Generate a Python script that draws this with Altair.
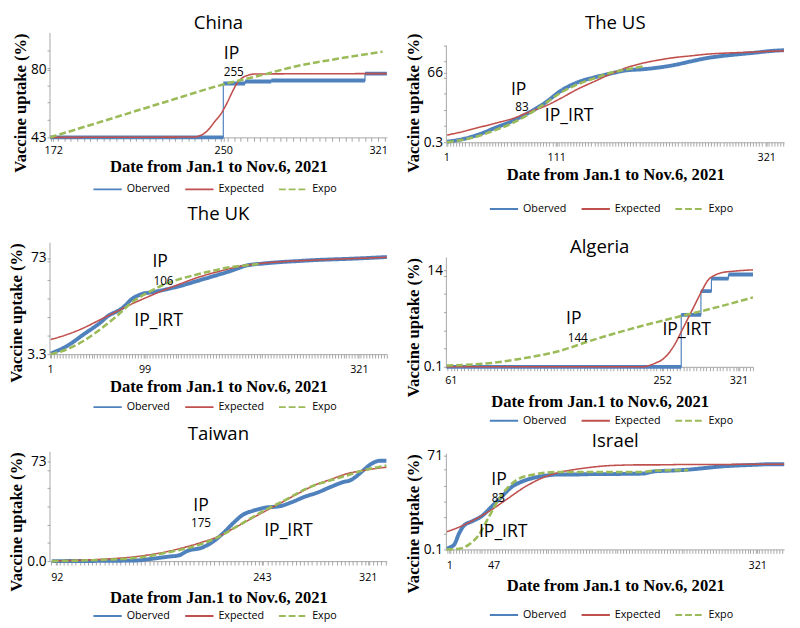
import altair as alt
import pandas as pd

SERIES = ["Oberved", "Expected", "Expo"]
COLORS = ["#4f81bd", "#c0504d", "#9bbb59"]
DASHES = [[1, 0], [1, 0], [7, 3]]
XTITLE = "Date from Jan.1 to Nov.6, 2021"
YTITLE = "Vaccine uptake (%)"
AXIS_GRAY = "#a6a6a6"

# ---------------- China ----------------
china_xdom = [170.5, 325]
china_ydom = [43, 100]
china_ytop = 100
china_xlabels = [172, 250, 321]
china_yvals = [43, 80]
china_ytext = ["43", "80"]
china_obs_day = [170.5, 250, 260, 272, 315, 325]
china_obs_val = [43, 72.4, 73.5, 74.0, 77.8, 77.8]
china_exp_day = [170.5, 236, 240, 243, 246, 249, 252, 254, 256, 258, 261, 265, 325]
china_exp_val = [43, 43.2, 44.3, 47, 51.5, 56, 62.5, 67.5, 72, 74.8, 76.8, 77.6, 77.8]
china_expo_day = [170.5, 193, 223, 250, 268, 283, 298, 313, 323]
china_expo_val = [43, 51.2, 62.2, 71.9, 77.1, 81.7, 85.0, 87.9, 89.7]
china_ann_text = ["IP", "255"]
china_ann_day = [253.8, 254.8]
china_ann_val = [88.2, 78.6]
china_ann_size = [18, 12]

# ---------------- The US ----------------
us_xdom = [1, 339]
us_ydom = [0.3, 104.0]
us_ytop = 92
us_xlabels = [1, 111, 321]
us_yvals = [0.3, 66]
us_ytext = ["0.3", "66"]
us_obs_day = [1.7, 17.9, 34.2, 50.5, 66.8, 83.1, 99.4, 115.7, 131.9, 148.2, 164.5,
              180.8, 197.1, 213.4, 229.7, 246, 262.2, 278.5, 294.8, 311.1, 327.4, 338.8]
us_obs_val = [0.9, 3.4, 8.0, 14.2, 20.4, 28.2, 37.5, 49.2, 57.0, 61.6, 65.3,
              68.5, 69.5, 71.2, 73.7, 77.1, 80.2, 82.3, 83.9, 85.4, 87.0, 87.6]
us_exp_day = [1.7, 17.9, 34.2, 50.5, 66.8, 83.1, 99.4, 115.7, 131.9, 148.2, 164.5,
              180.8, 197.1, 213.4, 229.7, 246, 262.2, 278.5, 294.8, 311.1, 327.4, 338.8]
us_exp_val = [7.1, 10.5, 14.5, 18.5, 22.6, 28.8, 34.4, 42.1, 50.5, 57.6, 64.7,
              70.9, 75.2, 78.3, 80.7, 82.3, 83.9, 84.8, 85.4, 86.0, 86.7, 87.0]
us_expo_day = [1.7, 17.9, 34.2, 50.5, 66.8, 83.1, 99.4, 115.7, 131.9, 148.2, 164.5, 180.8, 198.7]
us_expo_val = [0.3, 2.8, 6.5, 12.1, 18.3, 26.7, 36.9, 47.4, 55.1, 60.7, 65.9, 69.3, 72.4]
us_ann_text = ["IP", "83", "IP_IRT"]
us_ann_day = [73.3, 76.6, 123.8]
us_ann_val = [50.0, 33.2, 25.0]
us_ann_size = [18, 12, 18]

# ---------------- The UK ----------------
uk_xdom = [1, 350]
uk_ydom = [3.3, 84]
uk_ytop = 84
uk_xlabels = [1, 99, 321]
uk_yvals = [3.3, 73]
uk_ytext = ["3.3", "73"]
uk_obs_day = [1.7, 18.6, 35.6, 52.5, 62.7, 69.5, 76.3, 86.4, 96.6, 106.8, 120.3, 137.3,
              154.2, 171.2, 188.1, 205.1, 222, 239, 255.9, 272.9, 289.8, 306.8, 323.7, 350]
uk_obs_val = [3.8, 9.2, 17.5, 25.8, 31.7, 34.0, 36.9, 43.5, 47.0, 48.2, 50.1, 53.0,
              56.5, 60.0, 63.6, 67.6, 69.0, 70.0, 70.7, 71.4, 71.9, 72.3, 72.8, 73.7]
uk_exp_day = [1.7, 18.6, 35.6, 52.5, 69.5, 86.4, 103.4, 120.3, 137.3, 154.2, 171.2,
              188.1, 205.1, 222, 239, 255.9, 272.9, 289.8, 323.7, 350]
uk_exp_val = [13.9, 17.5, 22.2, 28.1, 34.0, 39.9, 45.1, 50.1, 54.6, 58.9, 62.4,
              65.5, 67.8, 69.3, 70.2, 70.9, 71.4, 71.9, 72.8, 73.5]
uk_expo_day = [1.7, 18.6, 35.6, 52.5, 69.5, 86.4, 103.4, 120.3, 137.3, 154.2, 171.2, 188.1, 205.1, 218.6]
uk_expo_val = [3.3, 6.8, 12.8, 21.0, 30.5, 41.1, 48.2, 54.1, 58.1, 61.2, 64.0, 66.4, 67.8, 68.8]
uk_ann_text = ["IP", "106", "IP_IRT"]
uk_ann_day = [115.2, 118.6, 113.5]
uk_ann_val = [70.0, 56.5, 27.4]
uk_ann_size = [18, 12, 18]

# ---------------- Algeria ----------------
alg_xdom = [57, 334]
alg_ydom = [0.1, 15.85]
alg_ytop = 15.85
alg_xlabels = [61, 252, 321]
alg_yvals = [0.1, 14]
alg_ytext = ["0.1", "14"]
alg_obs_day = [57, 269.2, 287, 296.5, 311.9, 334]
alg_obs_val = [0.1, 7.58, 11.0, 12.8, 13.4, 13.4]
alg_exp_day = [57, 234.2, 240.2, 246.1, 252, 257.9, 263.8, 269.8, 275.7, 281.6,
               287.5, 293.4, 299.3, 305.3, 317.1, 334]
alg_exp_val = [0.1, 0.1, 0.29, 0.66, 1.13, 2.06, 3.46, 5.33, 7.2, 9.07,
               10.94, 12.58, 13.28, 13.65, 13.88, 14.07]
alg_expo_day = [57, 98.2, 127.7, 157.3, 186.9, 216.5, 246.1, 275.7, 305.3, 334]
alg_expo_val = [0.29, 0.66, 1.36, 2.3, 3.84, 5.24, 6.5, 7.67, 8.84, 10.1]
alg_ann_text = ["IP", "144", "IP_IRT"]
alg_ann_day = [172.1, 175.7, 274.2]
alg_ann_val = [7.0, 4.3, 5.4]
alg_ann_size = [18, 12, 18]

# ---------------- Taiwan ----------------
tw_xdom = [87, 335]
tw_ydom = [0, 80]
tw_ytop = 80
tw_xlabels = [92, 243, 321]
tw_yvals = [0, 73]
tw_ytext = ["0.0", "73"]
tw_obs_day = [88.4, 126.6, 150.5, 162.4, 174.3, 181.5, 188.7, 198.2, 207.8, 214.9, 222.1,
              229.2, 236.4, 245.9, 255.5, 265, 274.6, 284.1, 293.7, 303.2, 308, 312.8,
              317.5, 324.7, 329.5, 334.7]
tw_obs_val = [0, 0.2, 0.5, 1.7, 3.3, 4.1, 7.7, 9.6, 14.8, 20.8, 28.0,
              34.0, 36.8, 39.2, 40.0, 43.1, 47.1, 50.2, 54.3, 57.9, 59.1, 62.2,
              66.3, 71.8, 73.4, 73.4]
tw_exp_day = [88.4, 126.6, 150.5, 174.3, 198.2, 210.1, 222.1, 234, 245.9, 257.9,
              269.8, 281.7, 293.7, 305.6, 317.5, 334.7]
tw_exp_val = [0.2, 1.4, 3.3, 7.2, 13.6, 17.7, 23.9, 30.4, 36.8, 43.1,
              49.5, 55.5, 59.8, 63.9, 66.3, 68.7]
tw_expo_day = [88.4, 126.6, 150.5, 174.3, 198.2, 210.1, 222.1, 234, 245.9, 257.9,
               269.8, 281.7, 293.7, 305.6, 317.5, 334.7]
tw_expo_val = [0, 1.0, 2.4, 6.5, 12.4, 17.2, 23.9, 30.9, 37.6, 43.5,
               50.0, 55.5, 59.1, 62.7, 66.3, 69.9]
tw_ann_text = ["IP", "175", "IP_IRT"]
tw_ann_day = [198.2, 198.2, 262.6]
tw_ann_val = [40.5, 28.0, 22.0]
tw_ann_size = [18, 12, 18]

# ---------------- Israel ----------------
is_xdom = [-2, 349]
is_ydom = [0.1, 72.2]
is_ytop = 72.2
is_xlabels = [1, 47, 321]
is_yvals = [0.1, 71]
is_ytext = ["0.1", "71"]
is_obs_day = [-2, 2.7, 6.1, 11.2, 16.3, 24.8, 35, 45.2, 55.4, 65.6, 75.8, 86, 99.6, 113.2,
              130.3, 147.3, 164.3, 181.3, 201.7, 215.3, 232.3, 249.3, 266.3, 283.3, 300.3,
              317.3, 334.3, 349]
is_obs_val = [0.6, 2.0, 3.7, 12.1, 18.1, 21.3, 25.3, 32.5, 39.8, 47.0, 51.0, 53.5, 55.5, 56.5,
              56.5, 56.8, 56.8, 57.0, 57.2, 59.0, 59.5, 60.2, 61.4, 62.6, 63.3,
              63.8, 64.3, 64.3]
is_exp_day = [-2, 11.2, 28.2, 45.2, 62.2, 79.2, 96.2, 113.2, 130.3, 147.3, 164.3, 181.3,
              198.3, 215.3, 249.3, 283.3, 317.3, 349]
is_exp_val = [13.3, 16.9, 22.9, 30.1, 38.6, 47.0, 53.5, 57.8, 60.2, 61.9, 63.1, 63.6,
              63.8, 63.8, 64.1, 64.1, 64.3, 64.3]
is_expo_day = [-2, 11.2, 21.4, 31.6, 41.8, 52, 62.2, 72.4, 86, 99.6, 113.2, 147.3,
               181.3, 201.7, 215.3, 232.3, 249.3]
is_expo_val = [0.1, 0.6, 3.7, 10.9, 24.1, 37.4, 47.0, 53.0, 56.1, 57.8, 58.5, 58.5,
               58.5, 58.5, 59.5, 59.7, 59.7]
is_ann_text = ["IP", "83", "IP_IRT"]
is_ann_day = [52.7, 52.0, 57.1]
is_ann_val = [52.0, 38.8, 13.3]
is_ann_size = [18, 12, 18]


def series_df(days, vals, name):
    return pd.DataFrame({"day": days, "value": vals, "series": name})


def label_expr(vals, texts):
    expr = "''"
    for v, t in zip(reversed(vals), reversed(texts)):
        expr = f"datum.value === {v} ? '{t}' : ({expr})"
    return expr


def panel(name, xdom, ydom, ytop, xlabels, yvals, ytext,
          obs_d, obs_v, exp_d, exp_v, expo_d, expo_v,
          ann_t, ann_d, ann_v, ann_s,
          width, height, title_offset, legend_gap, legend_pad, xlab_pad, xtitle_pad,
          step=False):
    lo = int(xdom[0]) + 1
    xticks = sorted(set(list(range(lo, int(xdom[1]) + 1, 3)) + xlabels))
    ystep = (ytop - ydom[0]) / 6
    ygrid = [round(ydom[0] + i * ystep, 4) for i in range(7)]
    yticks = sorted(set([v for v in ygrid if v < ydom[1] - 1e-6] + yvals))
    xexpr = label_expr(xlabels, [str(v) for v in xlabels])
    yexpr = label_expr(yvals, ytext)

    xaxis = alt.Axis(values=xticks, labelExpr=xexpr, labelOverlap=False, labelFlush=False,
                     tickSize=4, labelPadding=xlab_pad, labelFontSize=11, title=XTITLE,
                     titleFont="Liberation Serif", titleFontWeight="bold", titleFontSize=17,
                     titlePadding=xtitle_pad)
    yaxis = alt.Axis(values=yticks, labelExpr=yexpr, labelOverlap=False, labelFlush=False,
                     tickSize=3, labelPadding=1, labelFontSize=14, title=YTITLE,
                     titleFont="Liberation Serif", titleFontWeight="bold", titleFontSize=17,
                     titlePadding=1, titleAnchor="end", domain=False)
    X = alt.X("day:Q", scale=alt.Scale(domain=xdom, nice=False, zero=False), axis=xaxis)
    Y = alt.Y("value:Q", scale=alt.Scale(domain=ydom, nice=False, zero=False), axis=yaxis)
    legend = alt.Legend(orient="none", direction="horizontal", title=None,
                        legendX=50.5 - legend_pad,
                        legendY=height + legend_gap - 7.5 - legend_pad,
                        padding=legend_pad,
                        symbolType="M-2,0L2,0", symbolSize=210,
                        symbolStrokeWidth=2, columnPadding=11, labelOffset=11,
                        labelFont="Open Sans", labelFontSize=11)
    C = alt.Color("series:N", scale=alt.Scale(domain=SERIES, range=COLORS), legend=legend)
    D = alt.StrokeDash("series:N", scale=alt.Scale(domain=SERIES, range=DASHES), legend=legend)

    obs = series_df(obs_d, obs_v, "Oberved")
    exp = series_df(exp_d, exp_v, "Expected")
    expo = series_df(expo_d, expo_v, "Expo")

    layers = []
    if step:
        layers.append(alt.Chart(obs).mark_line(interpolate="step-after", strokeWidth=1.2)
                      .encode(x=X, y=Y, color=C, strokeDash=D))
        plate = pd.DataFrame({"day": obs_d[:-1], "day2": obs_d[1:],
                              "value": obs_v[:-1], "series": "Oberved"})
        layers.append(alt.Chart(plate).mark_rule(strokeWidth=4)
                      .encode(x=X, x2="day2:Q", y=Y, color=C, strokeDash=D))
    else:
        layers.append(alt.Chart(obs).mark_line(interpolate="monotone", strokeWidth=4)
                      .encode(x=X, y=Y, color=C, strokeDash=D))
    layers.append(alt.Chart(exp).mark_line(interpolate="monotone", strokeWidth=1.6)
                  .encode(x=X, y=Y, color=C, strokeDash=D))
    layers.append(alt.Chart(expo).mark_line(interpolate="monotone", strokeWidth=2.6)
                  .encode(x=X, y=Y, color=C, strokeDash=D))
    # y axis line, drawn up to the visible top of the value range
    axis_line = pd.DataFrame({"value": [ydom[0]], "value2": [ytop]})
    layers.append(alt.Chart(axis_line).mark_rule(color=AXIS_GRAY, strokeWidth=1)
                  .encode(x=alt.value(0), y=Y, y2="value2:Q"))
    ann = pd.DataFrame({"day": ann_d, "value": ann_v, "label": ann_t, "size": ann_s})
    layers.append(alt.Chart(ann).mark_text(font="Open Sans", color="black")
                  .encode(x=X, y=Y, text="label:N", size=alt.Size("size:Q", scale=None, legend=None)))

    return alt.layer(*layers).properties(
        width=width, height=height,
        title=alt.TitleParams(name, font="Open Sans", fontSize=19, fontWeight="normal",
                              offset=title_offset, color="black"))


china = panel("China", china_xdom, china_ydom, china_ytop, china_xlabels, china_yvals, china_ytext,
              china_obs_day, china_obs_val, china_exp_day, china_exp_val,
              china_expo_day, china_expo_val,
              china_ann_text, china_ann_day, china_ann_val, china_ann_size,
              345, 107, 0, 52, 8, 4, 3, step=True)
uk = panel("The UK", uk_xdom, uk_ydom, uk_ytop, uk_xlabels, uk_yvals, uk_ytext,
           uk_obs_day, uk_obs_val, uk_exp_day, uk_exp_val, uk_expo_day, uk_expo_val,
           uk_ann_text, uk_ann_day, uk_ann_val, uk_ann_size,
           345, 114, 19, 53, 10, 6, 4)
tw = panel("Taiwan", tw_xdom, tw_ydom, tw_ytop, tw_xlabels, tw_yvals, tw_ytext,
           tw_obs_day, tw_obs_val, tw_exp_day, tw_exp_val, tw_expo_day, tw_expo_val,
           tw_ann_text, tw_ann_day, tw_ann_val, tw_ann_size,
           345, 112, 8, 55, 0, 7, 7)
us = panel("The US", us_xdom, us_ydom, us_ytop, us_xlabels, us_yvals, us_ytext,
           us_obs_day, us_obs_val, us_exp_day, us_exp_val, us_expo_day, us_expo_val,
           us_ann_text, us_ann_day, us_ann_val, us_ann_size,
           346, 112, 0, 67, 22, 6, 4)
alg = panel("Algeria", alg_xdom, alg_ydom, alg_ytop, alg_xlabels, alg_yvals, alg_ytext,
            alg_obs_day, alg_obs_val, alg_exp_day, alg_exp_val, alg_expo_day, alg_expo_val,
            alg_ann_text, alg_ann_day, alg_ann_val, alg_ann_size,
            314, 112, 0, 54, 3, 4, 9, step=True)
isr = panel("Israel", is_xdom, is_ydom, is_ytop, is_xlabels, is_yvals, is_ytext,
            is_obs_day, is_obs_val, is_exp_day, is_exp_val, is_expo_day, is_expo_val,
            is_ann_text, is_ann_day, is_ann_val, is_ann_size,
            346, 98, -2, 66, 0, 7, 7)

RES = dict(color="independent", strokeDash="independent", x="independent", y="independent")
left = alt.vconcat(china, uk, tw, spacing=2).resolve_scale(**RES)
right = alt.vconcat(us, alg, isr, spacing=2).resolve_scale(**RES)
chart = (alt.concat(left, right, columns=2, align="none", spacing=10).resolve_scale(**RES)
         .properties(padding={"left": 0, "top": -2, "right": 0, "bottom": 0})
         .configure_view(stroke=None)
         .configure_axis(grid=False, domainColor=AXIS_GRAY, tickColor=AXIS_GRAY,
                         labelColor="black", titleColor="black", labelFont="Open Sans")
         .configure_legend(labelColor="black"))

chart.save("out.html", embed_options={"renderer": "svg", "actions": False})
